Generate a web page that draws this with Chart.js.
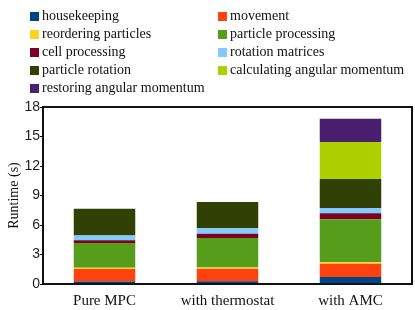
<!DOCTYPE html>
<html>
<head>
<meta charset="utf-8">
<script src="https://cdn.jsdelivr.net/npm/chart.js@4"></script>
<style>
  html, body { margin: 0; padding: 0; background: #fff; }
  #wrap { position: relative; width: 415px; height: 310px; }
  #legend {
    position: absolute; left: 30px; top: 7px;
    display: grid; grid-template-columns: 188px 190px; grid-auto-rows: 18px;
    font-family: "Liberation Serif", serif; font-size: 14px; color: #111;
  }
  .item { display: flex; align-items: center; white-space: nowrap; }
  .box { width: 9px; height: 9px; margin-right: 3px; flex: none; }
</style>
</head>
<body>
<div id="wrap">
  <canvas id="chart" width="415" height="310"></canvas>
  <div id="legend"></div>
</div>
<script>
const categories = ['Pure MPC', 'with thermostat', 'with AMC'];

const housekeeping = [0.25, 0.27, 0.71];
const movement = [1.28, 1.29, 1.36];
const reordering = [0.13, 0.13, 0.13];
const particleProcessing = [2.51, 2.99, 4.38];
const cellProcessing = [0.27, 0.44, 0.61];
const rotationMatrices = [0.48, 0.54, 0.54];
const particleRotation = [2.74, 2.68, 2.95];
const calcAngular = [null, null, 3.76];
const restoringAngular = [null, null, 2.37];

const seriesNames = ['housekeeping', 'movement', 'reordering particles', 'particle processing',
  'cell processing', 'rotation matrices', 'particle rotation', 'calculating angular momentum',
  'restoring angular momentum'];
const seriesValues = [housekeeping, movement, reordering, particleProcessing, cellProcessing,
  rotationMatrices, particleRotation, calcAngular, restoringAngular];
const colors = ['#004586', '#ff420e', '#ffd320', '#579d1c', '#7e0021', '#83caff', '#314004', '#aecf00', '#4b1f6f'];

const yTicks = [0, 3, 6, 9, 12, 15, 18];

const $ = (id) => document.getElementById(id);

// legend, two columns like the original
$('legend').innerHTML = seriesNames.map((n, i) =>
  `<div class="item"><span class="box" style="background:${colors[i]}"></span>${n}</div>`).join('');

// frame around the plot
const framePlugin = {
  id: 'frame',
  afterDraw(chart) {
    const { ctx, chartArea: a } = chart;
    ctx.save();
    ctx.strokeStyle = '#111';
    ctx.lineWidth = 2;
    ctx.strokeRect(a.left, a.top, a.right - a.left, a.bottom - a.top);
    ctx.restore();
  }
};

new Chart($('chart'), {
  type: 'bar',
  data: {
    labels: categories,
    datasets: seriesNames.map((n, i) => ({
      label: n,
      data: seriesValues[i],
      backgroundColor: colors[i],
      borderWidth: 0,
      barPercentage: 0.5,
      categoryPercentage: 1.0
    }))
  },
  options: {
    responsive: false,
    animation: false,
    layout: { padding: { top: 107, right: 3, left: 0, bottom: 0 } },
    plugins: { legend: { display: false }, tooltip: { enabled: false } },
    scales: {
      x: {
        stacked: true,
        grid: { display: false },
        border: { display: false },
        ticks: { color: '#111', font: { family: 'Liberation Serif', size: 15 }, padding: 0 },
        afterFit: (s) => { s.height = 26; }
      },
      y: {
        stacked: true,
        min: 0, max: 18,
        afterBuildTicks: (s) => { s.ticks = yTicks.map(v => ({ value: v })); },
        grid: { drawOnChartArea: false, drawTicks: true, tickLength: 3, color: '#111' },
        border: { display: false },
        ticks: { color: '#222', font: { family: 'Liberation Sans', size: 14 }, padding: 0 },
        title: { display: true, text: 'Runtime (s)', color: '#111', font: { family: 'Liberation Serif', size: 14 }, padding: { top: 6, bottom: 0 } },
        afterFit: (s) => { s.width = 43; }
      }
    }
  },
  plugins: [framePlugin]
});
</script>
</body>
</html>
